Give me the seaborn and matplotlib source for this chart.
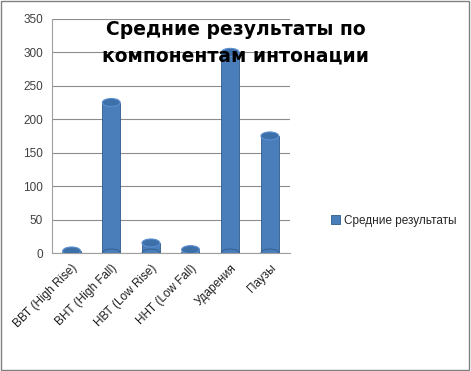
import matplotlib
matplotlib.use("Agg")
import matplotlib.pyplot as plt
from matplotlib.patches import Ellipse, Rectangle
import pandas as pd
import seaborn as sns

# values
categories = ["ВВТ (High Rise)", "ВНТ (High Fall)", "НВТ (Low Rise)",
              "ННТ (Low Fall)", "Ударения", "Паузы"]
values = [3, 225, 15, 5, 300, 175]
series_name = "Средние результаты"
title = "Средние результаты по\nкомпонентам интонации"

df = pd.DataFrame({"cat": categories, "val": values})

sns.set_style("white")
plt.rcParams["font.family"] = ["Liberation Sans", "DejaVu Sans"]

fig = plt.figure(figsize=(4.71, 3.71), dpi=100)
ax = fig.add_axes([0.11, 0.318, 0.505, 0.631])

sns.barplot(data=df, x="cat", y="val", color="#4a7ebb", width=0.45,
            saturation=1, edgecolor="#2f5a8c", linewidth=0.6,
            label=series_name, ax=ax)
handles, labels = ax.get_legend_handles_labels()
if ax.get_legend() is not None:
    ax.get_legend().remove()

# cylinder caps on top of each bar
for p in ax.patches:
    cx = p.get_x() + p.get_width() / 2
    top = p.get_height()
    ax.add_patch(Ellipse((cx, top), p.get_width(), 12, facecolor="#3d6fa8",
                         edgecolor="#5b8fd0", linewidth=0.8, zorder=3))
    ax.add_patch(Ellipse((cx, 0), p.get_width(), 12, facecolor="#4a7ebb",
                         edgecolor="#2f5a8c", linewidth=0.6, zorder=1))

ax.set_ylim(0, 350)
ax.set_yticks(range(0, 351, 50))
ax.yaxis.grid(True, color="#8c8c8c", linewidth=0.8)
ax.set_axisbelow(True)
ax.set_xlabel("")
ax.set_ylabel("")
for s in ["top", "right"]:
    ax.spines[s].set_visible(False)
ax.spines["left"].set_color("#a0a0a0")
ax.spines["bottom"].set_color("#a0a0a0")
ax.tick_params(axis="y", labelsize=8.5, colors="#404040", length=3, color="#a0a0a0")
ax.tick_params(axis="x", labelsize=8.5, colors="#202020", length=3, color="#a0a0a0")
ax.set_xticks(range(len(categories)))
ax.set_xticklabels(categories, rotation=45, ha="right", rotation_mode="anchor")

fig.text(0.5, 0.885, title, ha="center", va="center", fontsize=13.5,
         fontweight="bold", family="DejaVu Sans", color="black", linespacing=1.5)

fig.legend(handles[:1], [series_name], loc="center left",
           bbox_to_anchor=(0.68, 0.405), frameon=False, fontsize=8.5,
           handlelength=0.8, handleheight=0.8, handletextpad=0.3)

fig.patches.append(Rectangle((0.002, 0.003), 0.994, 0.993, transform=fig.transFigure,
                             fill=False, edgecolor="#808080", linewidth=1))

fig.savefig("out.png", dpi=100)
